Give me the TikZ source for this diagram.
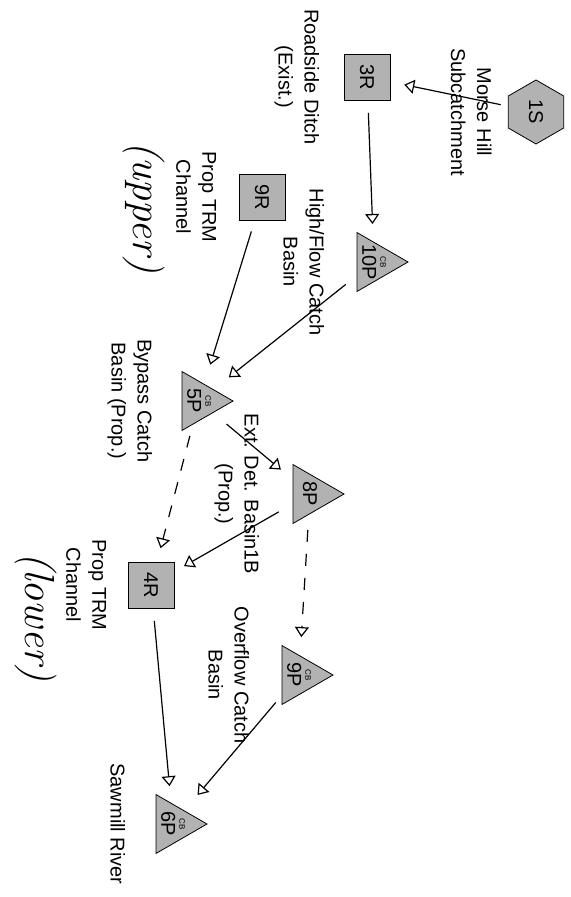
\documentclass[tikz,border=0pt]{standalone}
\usepackage{fontspec}
\newfontfamily\labelfont{Liberation Sans}
\usetikzlibrary{arrows.meta,positioning,shapes.geometric}
\newcommand{\cbline}{{\fontsize{4}{4}\selectfont CB}\\[-4pt]}

\begin{document}
\begin{tikzpicture}[x=0.5pt,y=-0.5pt,
    tag/.style={rotate=-90,inner sep=0pt,align=center,font=\labelfont\fontsize{10}{13}\selectfont},
    reach/.style={draw,fill=black!30,minimum size=23pt,inner sep=0pt,label={[tag]center:#1}},
    pond/.style={draw,fill=black!30,regular polygon,regular polygon sides=3,shape border rotate=-90,minimum size=34pt,inner sep=0pt,label={[tag]center:#1}},
    subcat/.style={draw,fill=black!30,regular polygon,regular polygon sides=6,shape border rotate=90,minimum size=32pt,inner sep=0pt,label={[tag]center:#1}},
    desc/.style={tag},
    hand/.style={rotate=-90,inner sep=0pt,font=\fontsize{21}{21}\selectfont\itshape},
    flow/.style={-{Triangle[open,length=5pt,width=7pt]},semithick,shorten <=18pt,shorten >=19pt},
    spill/.style={flow,dash pattern=on 6pt off 6pt}]
  \useasboundingbox (0,0) rectangle (571,897);
  \node[subcat=1S] (oneS) at (536,112) {};
  \node[reach=3R] (threeR) at (367,77) {};
  \node[pond=\cbline 10P] (tenP) at (374,262) {};
  \node[reach=9R] (nineR) at (262,197) {};
  \node[pond=\cbline 5P] (fiveP) at (199,401) {};
  \node[pond=8P] (eightP) at (310,494) {};
  \node[reach=4R] (fourR) at (151,585) {};
  \node[pond=\cbline 9P] (nineP) at (299,675) {};
  \node[pond=\cbline 6P] (sixP) at (173,824) {};
  % names
  \node[desc,left=8pt of oneS,anchor=north] (oneSname) {Morse Hill\\Subcatchment};
  \node[desc,left=12pt of threeR,anchor=north] (threeRname) {Roadside Ditch\\(Exist.)};
  \node[desc,left=16pt of tenP,anchor=north] (tenPname) {High/Flow Catch\\Basin};
  \node[desc,left=11pt of nineR,anchor=north] (nineRname) {Prop TRM\\Channel};
  \node[desc,left=14.5pt of fiveP,anchor=north] (fivePname) {Bypass Catch\\Basin (Prop.)};
  \node[desc,left=16.5pt of eightP,anchor=north] (eightPname) {Ext. Det. Basin1B\\(Prop.)};
  \node[desc,left=10.5pt of fourR,anchor=north] (fourRname) {Prop TRM\\Channel};
  \node[desc,left=16pt of nineP,anchor=north] (ninePname) {Overflow Catch\\Basin};
  \node[desc,left=15pt of sixP,anchor=north] (sixPname) {Sawmill River};
  \node[hand,left=5pt of nineRname.south,anchor=north,xshift=5pt] (upperNote) {(upper)};
  \node[hand,left=4pt of fourRname.south,anchor=north,xshift=16pt] (lowerNote) {(lower)};
  % routing
  \draw[flow] (oneS.center) -- (threeR.center);
  \draw[flow] (threeR.center) -- (tenP.center);
  \draw[flow] (tenP.center) -- (fiveP.center);
  \draw[flow] (nineR.center) -- (fiveP.center);
  \draw[flow] (fiveP.center) -- (eightP.center);
  \draw[spill] (fiveP.center) -- (fourR.center);
  \draw[flow] (eightP.center) -- (fourR.center);
  \draw[spill] (eightP.center) -- (nineP.center);
  \draw[flow] (fourR.center) -- (sixP.center);
  \draw[flow] (nineP.center) -- (sixP.center);
\end{tikzpicture}
\end{document}
